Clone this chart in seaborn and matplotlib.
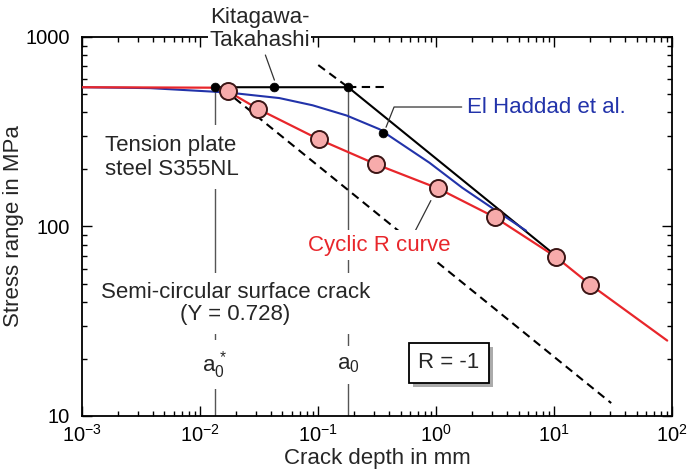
import matplotlib
matplotlib.use("Agg")
import matplotlib.pyplot as plt
import matplotlib.ticker as ticker
import matplotlib.patheffects as pe
import seaborn as sns

# values (crack depth in mm, stress range in MPa)
r_line_x = [0.001, 0.013, 0.0171, 0.0313, 0.102, 0.310, 1.035, 3.14, 10.3, 20.3, 91]
r_line_y = [543, 540, 518, 416, 288, 213, 159, 112, 69.3, 49.3, 25]
r_pts_x = [0.0171, 0.0313, 0.102, 0.310, 1.035, 3.14, 10.3, 20.3]
r_pts_y = [518, 416, 288, 213, 159, 112, 69.3, 49.3]

haddad_x = [0.001, 0.0038, 0.0133, 0.019, 0.047, 0.090, 0.175, 0.332, 0.404, 0.879, 1.67, 3.44, 5.8]
haddad_y = [543, 537, 514, 506, 476, 436, 385, 326, 300, 217, 160, 118, 95]

kt_x = [0.0133, 0.18, 9.3]
kt_y = [543, 543, 74]
kt_pts_x = [0.0133, 0.0427, 0.18, 0.355]
kt_pts_y = [543, 543, 543, 312]

upper_dash_x = [0.1005, 0.18]
upper_dash_y = [711, 543]
flat_dash_x = [0.18, 0.377]
flat_dash_y = [543, 543]
lower_dash_x = [0.0196, 30.5]
lower_dash_y = [476, 11.7]

a0_star = 0.0133
a0 = 0.18

x_ticks = [1e-3, 1e-2, 1e-1, 1e0, 1e1, 1e2]
x_labels = ['$10^{-3}$', '$10^{-2}$', '$10^{-1}$', '$10^{0}$', '$10^{1}$', '$10^{2}$']
y_ticks = [10, 100, 1000]
y_labels = ['10', '100', '1000']

sns.set_style("ticks")
plt.rcParams['font.family'] = ['Liberation Sans', 'DejaVu Sans']
plt.rcParams['mathtext.fontset'] = 'custom'
plt.rcParams['mathtext.rm'] = 'Liberation Sans'
plt.rcParams['mathtext.it'] = 'Liberation Sans'
plt.rcParams['mathtext.default'] = 'regular'
plt.rcParams['lines.dashed_pattern'] = [4, 2.6]

red = '#e8262b'
blue = '#2233aa'
fs = 16

fig = plt.figure(figsize=(6.88, 4.74), dpi=100)
ax = fig.add_axes([0.1192, 0.1224, 0.8576, 0.7996])
ax.set_xscale('log')
ax.set_yscale('log')

# a0* and a0 markers
for xv in (a0_star, a0):
    ax.plot([xv, xv], [543, 10], color='#555555', lw=1.0, zorder=1)

sns.lineplot(x=lower_dash_x, y=lower_dash_y, ax=ax, color='black', lw=1.5,
             linestyle='--', sort=False, estimator=None, zorder=2)
sns.lineplot(x=upper_dash_x, y=upper_dash_y, ax=ax, color='black', lw=1.5,
             linestyle='--', sort=False, estimator=None, zorder=2)
sns.lineplot(x=flat_dash_x, y=flat_dash_y, ax=ax, color='black', lw=1.5,
             linestyle='--', sort=False, estimator=None, zorder=2)
sns.lineplot(x=kt_x, y=kt_y, ax=ax, color='black', lw=1.5,
             sort=False, estimator=None, zorder=3)
sns.lineplot(x=haddad_x, y=haddad_y, ax=ax, color=blue, lw=1.5,
             sort=False, estimator=None, zorder=3)
sns.lineplot(x=r_line_x, y=r_line_y, ax=ax, color=red, lw=1.6,
             sort=False, estimator=None, zorder=3)
sns.scatterplot(x=kt_pts_x, y=kt_pts_y, ax=ax, s=40, color='black',
                edgecolor='black', zorder=4)
sns.scatterplot(x=r_pts_x, y=r_pts_y, ax=ax, s=150, color='#f7abab',
                edgecolor='#3b1515', linewidth=1.4, zorder=5)

# pointer lines
ax.plot([0.0358, 0.0427], [803, 592], color='#333333', lw=0.9, zorder=3)
ax.plot([1.65, 0.441, 0.377], [427, 427, 334], color='#333333', lw=0.9, zorder=3)
ax.plot([0.904, 0.649], [137, 91.8], color='#333333', lw=0.9, zorder=3)

ax.text(0.301, 1.021, 'Kitagawa-\nTakahashi', transform=ax.transAxes, ha='center',
        va='center', fontsize=fs, linespacing=1.1, clip_on=False, zorder=10,
        bbox=dict(facecolor='white', edgecolor='none', pad=1))
ax.text(0.652, 0.813, 'El Haddad et al.', transform=ax.transAxes, ha='left',
        va='center', fontsize=fs, color=blue, zorder=10)
ax.text(0.039, 0.683, 'Tension plate\nsteel S355NL', transform=ax.transAxes,
        ha='left', va='center', fontsize=fs, linespacing=1.2, zorder=10,
        bbox=dict(facecolor='white', edgecolor='none', pad=7))
ax.text(0.503, 0.451, 'Cyclic R curve', transform=ax.transAxes, ha='center',
        va='center', fontsize=fs, color=red, zorder=10,
        bbox=dict(facecolor='white', edgecolor='none', pad=3))
ax.text(0.260, 0.297, 'Semi-circular surface crack\n(Y = 0.728)', transform=ax.transAxes,
        ha='center', va='center', multialignment='center', fontsize=fs,
        linespacing=1.1, zorder=10,
        bbox=dict(facecolor='white', edgecolor='none', pad=6))
ax.text(a0_star, 0.135, r'$\mathrm{a}_0^{\,*}$', transform=ax.get_xaxis_transform(),
        ha='center', va='center', fontsize=fs, zorder=10,
        bbox=dict(facecolor='white', edgecolor='none', pad=6))
ax.text(a0, 0.135, r'$\mathrm{a}_0$', transform=ax.get_xaxis_transform(),
        ha='center', va='center', fontsize=fs, zorder=10,
        bbox=dict(facecolor='white', edgecolor='none', pad=6))
rbox = ax.text(0.622, 0.140, 'R = -1', transform=ax.transAxes, ha='center',
               va='center', fontsize=fs, zorder=10,
               bbox=dict(boxstyle='square,pad=0.42', facecolor='white',
                         edgecolor='black', lw=1.3))
rbox.get_bbox_patch().set_path_effects(
    [pe.SimplePatchShadow(offset=(3, -3), shadow_rgbFace='#888888', alpha=0.7),
     pe.Normal()])

ax.set_xlim(1e-3, 1e2)
ax.set_ylim(10, 1000)
ax.set_xticks(x_ticks)
ax.set_xticklabels(x_labels)
ax.set_yticks(y_ticks)
ax.set_yticklabels(y_labels)
ax.xaxis.set_minor_locator(ticker.LogLocator(base=10, subs=range(2, 10), numticks=20))
ax.yaxis.set_minor_locator(ticker.LogLocator(base=10, subs=range(2, 10), numticks=20))
ax.xaxis.set_minor_formatter(ticker.NullFormatter())
ax.yaxis.set_minor_formatter(ticker.NullFormatter())
ax.tick_params(which='both', direction='in', top=True, right=True,
               width=1.0, colors='black', labelsize=14.5)
ax.tick_params(which='major', length=7)
ax.tick_params(which='minor', length=3.5)
ax.tick_params(axis='y', pad=9)
ax.tick_params(axis='x', pad=6)
for sp in ax.spines.values():
    sp.set_linewidth(1.3)
    sp.set_color('black')

ax.set_xlabel('Crack depth in mm', fontsize=fs, labelpad=1)
ax.set_ylabel('Stress range in MPa', fontsize=fs, labelpad=1)

plt.savefig('out.png', dpi=100)
